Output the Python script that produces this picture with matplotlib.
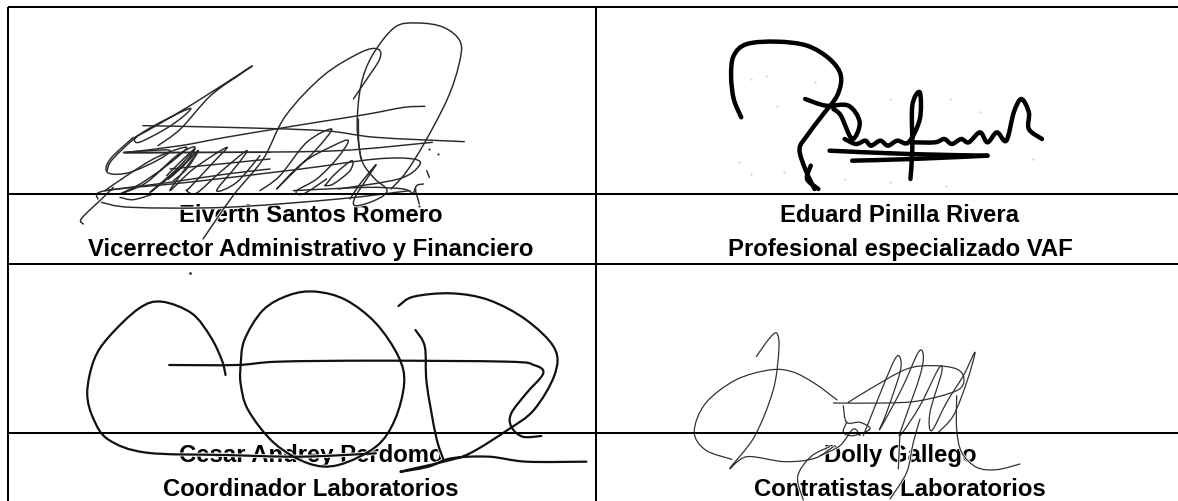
import matplotlib
matplotlib.use('Agg')
import matplotlib.pyplot as plt
from matplotlib.path import Path
from matplotlib.patches import PathPatch

# table lines, in picture pixels
col_lines = [7.5, 595.5]
row_lines = [7.5, 195, 264.5, 434]
bottom = 502
right = 1178

names = ['Elverth Santos Romero', 'Eduard Pinilla Rivera', 'Cesar Andrey Perdomo', 'Dolly Gallego']
roles = ['Vicerrector Administrativo y Financiero', 'Profesional especializado VAF',
         'Coordinador Laboratorios', 'Contratistas Laboratorios']
text_x = [311, 900, 311, 900]
name_y = [222, 222, 462, 462]
role_y = [256, 256, 496, 496]

# signatures (crop coordinates)
sig1 = [
    [(285, 515), (300, 480), (380, 400), (500, 330), (490, 350), (440, 390), (370, 430), (360, 415), (400, 390),
     (520, 310), (665, 205), (640, 225), (560, 290), (480, 390), (420, 440)],
    [(540, 720), (620, 590), (700, 480), (760, 350), (860, 230), (960, 160), (1005, 150), (1010, 180), (970, 250),
     (940, 300)],
    [(960, 480), (950, 380), (960, 260), (990, 170), (1050, 85), (1110, 72), (1180, 85), (1225, 130), (1220, 200),
     (1190, 300), (1130, 430), (1080, 520), (1040, 570)],
    [(340, 460), (480, 440), (600, 415), (760, 385), (870, 365), (980, 345), (1075, 325), (1130, 322)],
    [(380, 380), (600, 385), (860, 395), (1000, 415), (1235, 428)],
    [(330, 462), (600, 460), (900, 455), (1150, 430)],
    [(260, 600), (280, 575), (500, 550), (800, 510), (1000, 480), (1100, 480), (1115, 500), (1060, 540), (900, 570)],
    [(270, 610), (350, 625), (600, 625), (900, 600), (1090, 575)],
]
# scribble of the first signature, two closer crops
sig1_left = [
    [(160, 100), (240, 95), (300, 95), (260, 125), (180, 160), (125, 165), (108, 150), (125, 115), (190, 55)],
    [(105, 215), (170, 170), (260, 115), (350, 85), (290, 140), (210, 195), (150, 225), (230, 190), (320, 110),
     (375, 85), (320, 150), (240, 220), (310, 165), (385, 95), (345, 150), (300, 215), (370, 150), (470, 85),
     (430, 130), (360, 205), (350, 215), (380, 222), (450, 160), (530, 95), (500, 140), (440, 215), (500, 190),
     (570, 110)],
    [(290, 170), (340, 120), (375, 90), (340, 140), (295, 180), (350, 130), (385, 95), (350, 150), (310, 185)],
    [(150, 235), (190, 242), (250, 225)],
    [(105, 215), (180, 205), (300, 190), (470, 165), (600, 150)],
    [(165, 100), (330, 100), (600, 100)],
    [(300, 150), (500, 130), (600, 120)],
    [(40, 315), (35, 298), (100, 235), (130, 205)],
]
sig1_right = [
    [(0, 215), (60, 170), (140, 70), (215, 30), (170, 90), (100, 160), (50, 210), (130, 130), (220, 80), (265, 65),
     (230, 120), (170, 180), (110, 215), (130, 225), (200, 180)],
    [(195, 200), (225, 165), (275, 125), (270, 155), (220, 195), (195, 200)],
    [(100, 215), (200, 210), (330, 205), (430, 210), (460, 225)],
    [(295, 0), (297, 80), (310, 135), (345, 180), (380, 210), (370, 230), (330, 250), (285, 260), (285, 235),
     (320, 180), (348, 137), (300, 195), (270, 240)],
    [(460, 225), (470, 200), (490, 195)],
    [(465, 210), (478, 255)],
    [(500, 155), (508, 175)],
]
sig2 = [
    [(405, 355), (385, 300), (378, 230), (385, 170), (420, 135), (500, 128), (580, 140), (640, 180), (670, 230),
     (660, 290), (620, 350), (580, 410), (560, 450), (575, 510), (600, 570)],
    [(590, 500), (580, 540), (610, 570)],
    [(575, 300), (630, 320), (690, 320), (720, 370), (700, 420), (670, 350), (650, 330)],
    [(680, 420), (710, 435), (735, 425), (750, 440), (775, 425), (795, 440), (820, 425), (850, 430), (880, 360),
     (880, 280), (860, 320), (860, 450), (855, 540)],
    [(860, 430), (920, 430), (945, 420), (965, 435), (990, 420), (1010, 430), (1040, 400), (1060, 430), (1085, 400),
     (1110, 425), (1130, 340), (1150, 300), (1170, 340), (1170, 390), (1205, 420)],
    [(700, 485), (860, 480), (1060, 470)],
    [(640, 455), (850, 465), (1060, 470)],
]
sig3 = [
    [(600, 375), (590, 330), (560, 260), (510, 190), (430, 155), (370, 175), (290, 260), (250, 330), (232, 430),
     (250, 510), (290, 570), (390, 608), (600, 615), (800, 620), (1000, 610)],
    [(450, 345), (630, 345), (740, 335), (1000, 332), (1350, 335), (1420, 345), (1445, 370), (1400, 430), (1360, 490),
     (1360, 530), (1390, 560), (1440, 558)],
    [(640, 345), (650, 270), (700, 180), (770, 135), (840, 125), (920, 150), (1000, 220), (1060, 320), (1075, 400),
     (1050, 510), (1000, 590), (900, 645), (820, 640), (730, 580), (660, 480), (640, 400), (640, 345)],
    [(1105, 240), (1130, 290), (1135, 400), (1160, 560), (1180, 630)],
    [(1060, 168), (1100, 140), (1200, 130), (1300, 150), (1400, 210), (1475, 295), (1475, 375), (1420, 480),
     (1350, 540), (1250, 610), (1180, 635), (1065, 665), (1140, 650), (1200, 625), (1300, 620), (1400, 635),
     (1560, 635)],
]
sig4 = [
    [(445, 320), (480, 265), (500, 250), (505, 300), (490, 420), (440, 560), (375, 655), (420, 620), (520, 635),
     (600, 625), (650, 590)],
    [(660, 450), (600, 400), (540, 365), (480, 360), (390, 390), (310, 460), (280, 545), (310, 600), (380, 628)],
    [(640, 590), (590, 620), (555, 680), (570, 750)],
]
sig4_close = [
    [(40, 192), (200, 192), (300, 185), (410, 155), (432, 120), (410, 90), (340, 80), (260, 90), (150, 150), (85, 190)],
    [(130, 290), (190, 140), (225, 60), (240, 55), (240, 100), (200, 220), (180, 270), (245, 150), (295, 40), (310, 50),
     (300, 110), (255, 240), (240, 290), (300, 200), (355, 90), (365, 100), (330, 220), (335, 275), (380, 190),
     (430, 110), (465, 40), (440, 130), (400, 230), (355, 280)],
    [(410, 170), (410, 270), (425, 340), (470, 385), (530, 392), (600, 375)],
    [(70, 200), (80, 250), (120, 250), (150, 270), (100, 290), (70, 280), (80, 250)],
    [(0, 350), (60, 320), (100, 270), (120, 290)],
    [(240, 280), (235, 390)],
    [(300, 240), (280, 310), (260, 400), (210, 480)],
]
sig1_dots = [(1140, 450), (1105, 570), (1115, 620), (1165, 465)]
sig2_dots = [(430, 240), (470, 230), (600, 250), (500, 320), (400, 490), (430, 525), (520, 520), (800, 300),
             (960, 300), (1040, 340), (1180, 480), (680, 540), (800, 550), (950, 560)]
sig3_dots = [(505, 68)]

# strokes, crop origin, x and y crop scale, pen width, colour
groups = [
    (sig1, (0, 0), 2.66, 3.0, 1.05, '#2a2a2a'),
    (sig1_left, (70, 120), 3.0, 3.0, 1.05, '#2a2a2a'),
    (sig1_right, (260, 120), 3.0, 3.0, 1.05, '#2a2a2a'),
    (sig2, (589, 0), 2.66, 3.0, 3.2, '#000000'),
    (sig3, (0, 251), 2.66, 3.0, 1.6, '#111111'),
    (sig4, (589, 251), 2.66, 3.0, 0.9, '#333333'),
    (sig4_close, (820, 340), 3.0, 3.0, 0.9, '#333333'),
]


def smooth_path(pts):
    pts = [pts[0]] + pts + [pts[-1]]
    verts = [pts[1]]
    codes = [Path.MOVETO]
    for p0, p1, p2, p3 in zip(pts, pts[1:], pts[2:], pts[3:]):
        c1 = (p1[0] + (p2[0] - p0[0]) / 6, p1[1] + (p2[1] - p0[1]) / 6)
        c2 = (p2[0] - (p3[0] - p1[0]) / 6, p2[1] - (p3[1] - p1[1]) / 6)
        verts += [c1, c2, p2]
        codes += [Path.CURVE4, Path.CURVE4, Path.CURVE4]
    return Path(verts, codes)


fig = plt.figure(figsize=(11.78, 5.02), dpi=100)
ax = fig.add_axes([0, 0, 1, 1])
ax.set_xlim(0, right)
ax.set_ylim(bottom, 0)
ax.axis('off')

for i in range(4):
    ax.text(text_x[i], name_y[i], names[i], ha='center', va='baseline', family='Liberation Sans',
            weight='bold', fontsize=17.2, color='black', zorder=2)
    ax.text(text_x[i], role_y[i], roles[i], ha='center', va='baseline', family='Liberation Sans',
            weight='bold', fontsize=17.2, color='black', zorder=2)

for strokes, origin, sx, sy, w, c in groups:
    paths = [smooth_path([(origin[0] + x / sx, origin[1] + y / sy) for x, y in s]) for s in strokes]
    # white edge of the pasted signature cuts into the text below it
    for p in paths:
        ax.add_patch(PathPatch(p, fill=False, ec='white', lw=w + 1.2, capstyle='round', joinstyle='round', zorder=3))
    for p in paths:
        ax.add_patch(PathPatch(p, fill=False, ec=c, lw=w, capstyle='round', joinstyle='round', zorder=4))

for dots, origin, col, size in [(sig1_dots, (0, 0), '#333333', 2.5), (sig2_dots, (589, 0), '#d8d8d8', 3),
                                (sig3_dots, (0, 251), '#333333', 4)]:
    xs = [origin[0] + x / 2.66 for x, y in dots]
    ys = [origin[1] + y / 3.0 for x, y in dots]
    ax.scatter(xs, ys, s=size, color=col, linewidths=0, zorder=4)

for y in row_lines:
    ax.plot([col_lines[0], right], [y, y], color='black', lw=1.45, solid_capstyle='butt', zorder=5)
for x in col_lines:
    ax.plot([x, x], [row_lines[0], bottom], color='black', lw=1.45, solid_capstyle='butt', zorder=5)

fig.savefig('out.png', dpi=100)
